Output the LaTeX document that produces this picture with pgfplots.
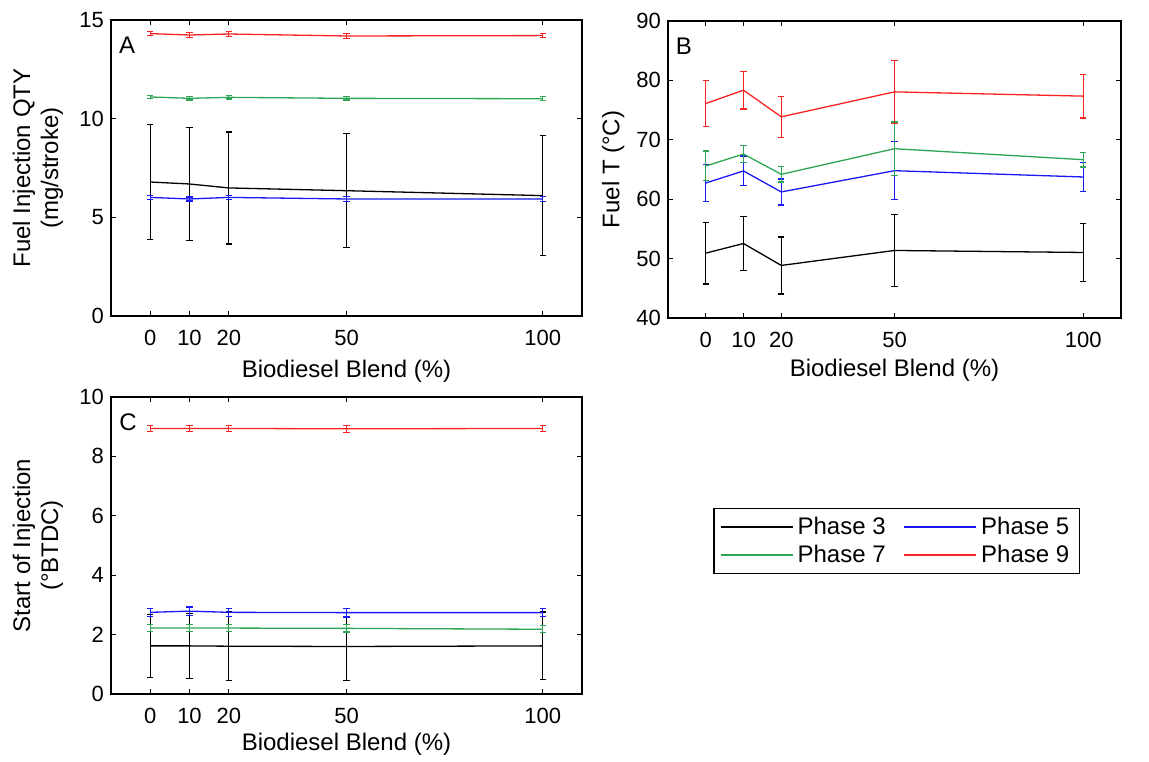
\documentclass[border=0pt]{standalone}
\usepackage{fontspec}
\setmainfont{Liberation Sans}
\usepackage{pgfplots}
\pgfplotsset{compat=1.18}
\definecolor{ph3}{RGB}{0,0,0}
\definecolor{ph5}{RGB}{25,25,245}
\definecolor{ph7}{RGB}{45,165,85}
\definecolor{ph9}{RGB}{250,35,35}
\pgfplotsset{
  panel/.style={
    scale only axis, width=235.5pt, height=148pt,
    xmin=-10, xmax=110, xtick={0,10,20,50,100},
    tick align=inside, tick pos=both, major tick length=2.5pt,
    axis line style={line width=0.6pt},
    every tick/.style={black, line width=0.6pt},
    /pgf/number format/assume math mode=true,
    tick label style={font=\fontsize{11}{13}\selectfont},
    label style={font=\fontsize{12}{14}\selectfont},
    xticklabel shift=3.5pt,
    xlabel={Biodiesel Blend (\%)},
    anchor=south west, clip=false,
  },
  eb/.style={no markers, line width=0.65pt, error bars/.cd, y dir=both, y explicit,
    error bar style={line width=0.65pt},
    error mark options={rotate=90, mark size=1.6pt, line width=0.65pt}},
}
\tikzset{panelletter/.style={font=\fontsize{12}{14}\selectfont, anchor=center}}

\begin{document}
\begin{tikzpicture}
\path (0pt,0pt) rectangle (574.5pt,380.5pt);

% A: fuel injection quantity
\begin{axis}[panel, at={(55.5pt,222.5pt)},
  ymin=0, ymax=15, ytick={0,5,10,15},
  ylabel={Fuel Injection QTY\\(mg/stroke)},
  ylabel style={align=center, at={(axis description cs:-0.155,0.5)}, anchor=center},
  xlabel style={at={(axis description cs:0.5,-0.188)}, anchor=center}]
  \addplot[ph3, eb] table[y error=e] {
x y e
0 6.79 2.90
10 6.69 2.86
20 6.49 2.84
50 6.35 2.89
100 6.10 3.04
};
  \addplot[ph5, eb] table[y error=e] {
x y e
0 6.01 0.10
10 5.93 0.10
20 6.01 0.10
50 5.93 0.11
100 5.93 0.11
};
  \addplot[ph7, eb] table[y error=e] {
x y e
0 11.10 0.09
10 11.03 0.09
20 11.08 0.09
50 11.03 0.09
100 11.01 0.10
};
  \addplot[ph9, eb] table[y error=e] {
x y e
0 14.31 0.11
10 14.24 0.12
20 14.29 0.11
50 14.19 0.12
100 14.21 0.11
};
  \node[panelletter] at (rel axis cs:0.034,0.915) {A};
\end{axis}

% B: fuel temperature
\begin{axis}[panel, at={(334pt,221.5pt)}, width=226.5pt, height=148.5pt,
  ymin=40, ymax=90, ytick={40,50,...,90},
  ylabel={Fuel T (°C)},
  ylabel style={at={(axis description cs:-0.121,0.5)}, anchor=center},
  xlabel style={at={(axis description cs:0.5,-0.175)}, anchor=center}]
  \addplot[ph3, eb] table[y error=e] {
x y e
0 50.92 5.2
10 52.54 4.6
20 48.85 4.8
50 51.37 6.1
100 51.03 4.9
};
  \addplot[ph5, eb] table[y error=e] {
x y e
0 62.73 3.1
10 64.75 2.5
20 61.22 2.2
50 64.80 4.9
100 63.74 2.4
};
  \addplot[ph7, eb] table[y error=e] {
x y e
0 65.59 2.5
10 67.60 1.45
20 64.19 1.3
50 68.50 4.5
100 66.65 1.25
};
  \addplot[ph9, eb] table[y error=e] {
x y e
0 76.11 3.9
10 78.35 3.15
20 73.87 3.45
50 78.07 5.3
100 77.35 3.7
};
  \node[panelletter] at (rel axis cs:0.035,0.916) {B};
\end{axis}

% C: start of injection
\begin{axis}[panel, at={(55.5pt,33.5pt)}, height=148.5pt,
  ymin=0, ymax=10, ytick={0,2,...,10},
  ylabel={Start of Injection\\(°BTDC)},
  ylabel style={align=center, at={(axis description cs:-0.155,0.5)}, anchor=center},
  xlabel style={at={(axis description cs:0.5,-0.168)}, anchor=center},
  legend columns=2,
  legend cell align=left,
  legend image code/.code={\draw[#1, line width=0.8pt] (0pt,0pt) -- (36pt,0pt);},
  legend style={at={(axis description cs:1.668,0.515)}, anchor=center,
    draw=black, line width=0.7pt, inner xsep=3pt, inner ysep=2pt,
    font=\fontsize{12}{13}\selectfont,
    /tikz/every even column/.append style={column sep=7pt}}]
  \addplot[ph3, eb] table[y error=e] {
x y e
0 1.62 1.06
10 1.62 1.10
20 1.61 1.16
50 1.60 1.15
100 1.62 1.14
};
  \addlegendentry{Phase 3}
  \addplot[ph5, eb] table[y error=e] {
x y e
0 2.75 0.14
10 2.79 0.14
20 2.75 0.14
50 2.74 0.15
100 2.74 0.14
};
  \addlegendentry{Phase 5}
  \addplot[ph7, eb] table[y error=e] {
x y e
0 2.22 0.12
10 2.22 0.12
20 2.22 0.12
50 2.21 0.12
100 2.18 0.12
};
  \addlegendentry{Phase 7}
  \addplot[ph9, eb] table[y error=e] {
x y e
0 8.94 0.11
10 8.94 0.11
20 8.94 0.11
50 8.93 0.12
100 8.94 0.10
};
  \addlegendentry{Phase 9}
  \node[panelletter] at (rel axis cs:0.036,0.916) {C};
\end{axis}
\end{tikzpicture}
\end{document}
